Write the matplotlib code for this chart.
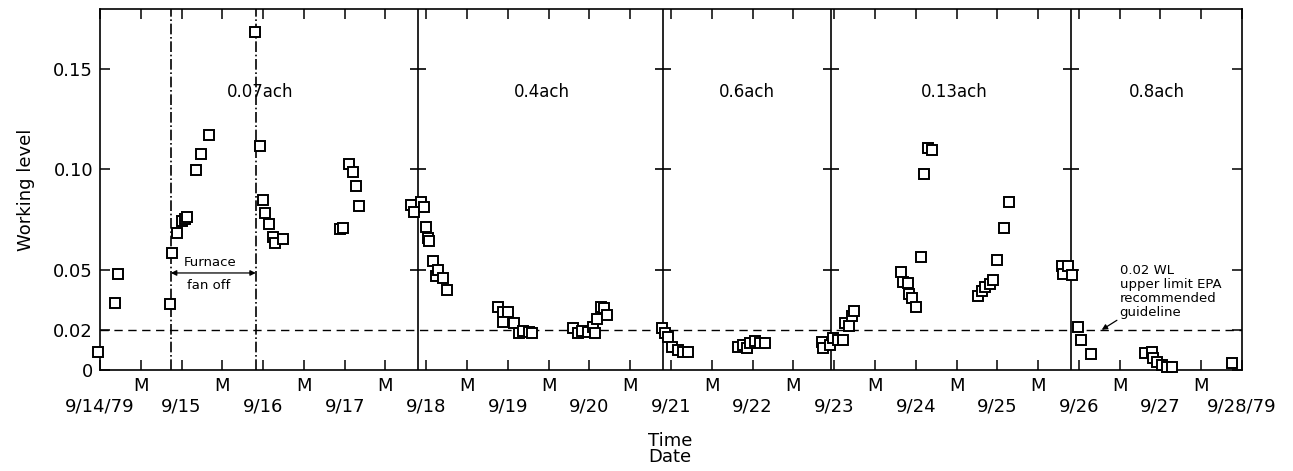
import matplotlib
matplotlib.use("Agg")
import matplotlib.pyplot as plt

plt.rcParams['font.family'] = ['DejaVu Sans']

# days after noon 9/14/79 ; radon working level
day = [-0.03, 0.18, 0.22,
       0.86, 0.88, 0.94, 1.00, 1.04, 1.07, 1.18, 1.24, 1.34,
       1.90, 1.96, 2.00, 2.02, 2.07, 2.12, 2.15, 2.24,
       2.94, 2.98, 3.05, 3.10, 3.14, 3.18,
       3.81, 3.85, 3.94, 3.97, 4.00, 4.02, 4.03, 4.08, 4.12, 4.14, 4.21, 4.25,
       4.88, 4.94, 5.00, 4.94, 5.07, 5.14, 5.18, 5.26, 5.29,
       5.80, 5.86, 5.91, 5.98, 6.04, 6.07, 6.09, 6.14, 6.18, 6.22,
       6.89, 6.93, 6.96, 7.01, 7.09, 7.15, 7.21,
       7.82, 7.88, 7.93, 7.97, 8.03, 8.09, 8.15,
       8.85, 8.86, 8.95, 8.99, 9.05, 9.11, 9.13, 9.18, 9.22, 9.24,
       9.82, 9.84, 9.91, 9.92, 9.95, 10.00, 10.06, 10.10, 10.15, 10.20,
       10.76, 10.81, 10.85, 10.91, 10.95, 11.00, 11.08, 11.14,
       11.79, 11.81, 11.87, 11.92, 11.99, 12.02, 12.15,
       12.81, 12.90, 12.91, 12.96, 13.02, 13.08, 13.14,
       13.88]
wl = [0.009, 0.0333, 0.0478,
      0.033, 0.058, 0.068, 0.074, 0.075, 0.076, 0.0995, 0.1075, 0.117,
      0.168, 0.1115, 0.0846, 0.078, 0.0727, 0.066, 0.063, 0.065,
      0.070, 0.0705, 0.1025, 0.0986, 0.0916, 0.0816,
      0.082, 0.0786, 0.0836, 0.081, 0.071, 0.0657, 0.064, 0.0543, 0.047, 0.0498, 0.0458, 0.0398,
      0.0314, 0.0289, 0.0289, 0.024, 0.0234, 0.0184, 0.0194, 0.019, 0.0184,
      0.021, 0.0184, 0.0194, 0.019, 0.0214, 0.0184, 0.0254, 0.0314, 0.031, 0.0274,
      0.0209, 0.0184, 0.0164, 0.0115, 0.010, 0.009, 0.009,
      0.0115, 0.0124, 0.011, 0.0134, 0.0144, 0.0134, 0.0134,
      0.014, 0.011, 0.0124, 0.016, 0.015, 0.015, 0.0234, 0.022, 0.027, 0.0294,
      0.049, 0.0438, 0.0433, 0.038, 0.0358, 0.0314, 0.0562, 0.0976, 0.1105, 0.1095,
      0.0368, 0.0393, 0.0413, 0.0428, 0.0448, 0.0548, 0.0707, 0.0836,
      0.0518, 0.048, 0.0518, 0.0473, 0.0214, 0.015, 0.008,
      0.0085, 0.009, 0.006, 0.004, 0.0025, 0.0015, 0.0015,
      0.0035]

dates = ['9/14/79', '9/15', '9/16', '9/17', '9/18', '9/19', '9/20', '9/21',
         '9/22', '9/23', '9/24', '9/25', '9/26', '9/27', '9/28/79']
# period boundaries (day), first two are the furnace fan-off markers
bounds = [0.87, 1.91, 3.90, 6.90, 8.96, 11.90]
bound_ls = ['dashdot', 'dashdot', 'solid', 'solid', 'solid', 'solid']
rates = ['0.07ach', '0.4ach', '0.6ach', '0.13ach', '0.8ach']
rate_x = [1.96, 5.42, 7.93, 10.47, 12.96]
epa_limit = 0.02

fig = plt.figure(figsize=(12.93, 4.71), dpi=100)
ax = fig.add_axes([0.0773, 0.2144, 0.8833, 0.7666])

for x, ls in zip(bounds, bound_ls):
    ax.axvline(x, color='black', lw=1.2, ls=ls, zorder=1)
    if ls == 'solid':
        ax.plot([x] * 3, [0.05, 0.10, 0.15], ls='none', marker='_',
                ms=11, mew=1.2, color='black', zorder=1)
ax.axhline(epa_limit, color='black', lw=1.0, ls=(0, (6, 4)), zorder=1)

ax.plot(day, wl, ls='none', marker='s', ms=7.5, mfc='white', mec='black',
        mew=1.4, zorder=3, clip_on=False)

for x, t in zip(rate_x, rates):
    ax.text(x, 0.1384, t, ha='center', va='center', fontsize=12)

# furnace fan off
ax.annotate('', xy=(bounds[0], 0.0483), xytext=(bounds[1], 0.0483),
            arrowprops=dict(arrowstyle='<|-|>', color='black', lw=0.9,
                            mutation_scale=8, shrinkA=0, shrinkB=0))
ax.text(1.35, 0.0533, 'Furnace', ha='center', va='center', fontsize=9.5)
ax.text(1.33, 0.0423, 'fan off', ha='center', va='center', fontsize=9.5)

ax.annotate('0.02 WL\nupper limit EPA\nrecommended\nguideline',
            xy=(12.28, epa_limit), xytext=(12.50, 0.0530),
            ha='left', va='top', fontsize=9.5, linespacing=1.1,
            arrowprops=dict(arrowstyle='-|>', color='black', lw=0.9,
                            mutation_scale=8, shrinkA=0, shrinkB=0,
                            relpos=(0.0, 0.0)))

ax.set_xlim(0, 14)
ax.set_ylim(0, 0.1797)
ax.set_yticks([0, 0.02, 0.05, 0.10, 0.15])
ax.set_yticklabels(['0', '0.02', '0.05', '0.10', '0.15'])
ax.set_xticks([d + 0.5 for d in range(14)])
ax.set_xticklabels(['M'] * 14)
ax.set_xticks(list(range(15)), minor=True)
ax.set_xticklabels(dates, minor=True)
ax.tick_params(which='both', direction='in', top=True, right=True,
               length=7, width=1.1, labelsize=13, pad=5)
ax.tick_params(axis='x', which='minor', pad=20)
for s in ax.spines.values():
    s.set_linewidth(1.2)

ax.set_ylabel('Working level', fontsize=13)
ax.yaxis.set_label_coords(-0.057, 0.5)
fig.text(670 / 1293, 1 - 449 / 471, 'Time\nDate', ha='center', va='center',
         fontsize=13, linespacing=0.9, multialignment='left')

fig.savefig('out.png', dpi=100)
